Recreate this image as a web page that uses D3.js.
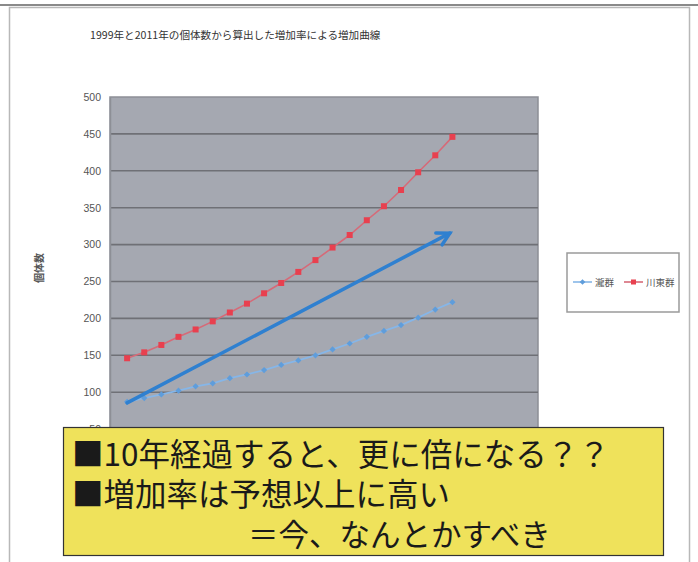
<!DOCTYPE html>
<html><head><meta charset="utf-8">
<script src="https://cdn.jsdelivr.net/npm/d3@7"></script>
<style>
html,body{margin:0;padding:0;background:#fff;}
svg{display:block;font-family:"Noto Sans CJK JP","Noto Sans",sans-serif;}
</style></head>
<body>
<svg id="chart" width="698" height="562"></svg>
<script>
// ---- data ----
const categories = ["2011","2012","2013","2014","2015","2016","2017","2018","2019","2020",
                    "2021","2022","2023","2024","2025","2026","2027","2028","2029","2030"];
const seriesNames = ["瀧群", "川東群"];
const takiValues   = [87, 92, 97, 102, 108, 112, 119, 124, 130, 137, 143, 150, 158, 166, 175, 183, 191, 201, 212, 222];
const kawahigashiValues = [146, 154, 164, 175, 185, 196, 208, 220, 234, 248, 263, 279, 296, 313, 333, 352, 374, 398, 421, 446];
const yTicks = [50, 100, 150, 200, 250, 300, 350, 400, 450, 500];
const titleText = "1999年と2011年の個体数から算出した増加率による増加曲線";
const yAxisTitle = "個体数";
const arrowFrom = [1, 85.5];   // [category position, value]
const arrowTo   = [19.85, 315.5];
const noteLines = ["■10年経過すると、更に倍になる？？", "■増加率は予想以上に高い", "＝今、なんとかすべき"];

// ---- drawing ----
const svg = d3.select("#chart");
const W = 698, H = 562;
const plot = {left:110, right:538, top:97, bottom:466};

// outer frame
svg.append("rect").attr("x",0).attr("y",0).attr("width",W).attr("height",H).attr("fill","#fff");
svg.append("line").attr("x1",0).attr("x2",W).attr("y1",5).attr("y2",5).attr("stroke","#8a8a8a").attr("stroke-width",2);
svg.append("rect").attr("x",9.5).attr("y",7.5).attr("width",680).attr("height",H).attr("fill","none").attr("stroke","#b8b8b8").attr("stroke-width",1.5);

const x = d3.scaleLinear().domain([0, 25]).range([plot.left, plot.right]);
const y = d3.scaleLinear().domain([0, 500]).range([plot.bottom, plot.top]);

// title
svg.append("text").attr("x", 90).attr("y", 39).attr("font-size", 10.6).attr("fill","#333")
  .text(titleText);

// plot background
svg.append("rect").attr("x",plot.left).attr("y",plot.top).attr("width",plot.right-plot.left)
  .attr("height",plot.bottom-plot.top).attr("fill","#a5a8b1").attr("stroke","#8d8f96").attr("stroke-width",1.5);

// gridlines
svg.append("g").selectAll("line").data(yTicks.filter(t=>t<500)).join("line")
  .attr("x1",plot.left).attr("x2",plot.right)
  .attr("y1",d=>y(d)).attr("y2",d=>y(d))
  .attr("stroke","#6f7076").attr("stroke-width",1.6);

// y axis
const yAxis = d3.axisLeft(y).tickValues(yTicks).tickSize(0).tickPadding(9);
const gy = svg.append("g").attr("transform",`translate(${plot.left},0)`).call(yAxis);
gy.select(".domain").attr("stroke","#8d8f96").attr("stroke-width",1.5);
gy.selectAll("text").attr("font-size",10.5).attr("fill","#555").attr("font-family","Liberation Sans, Arial, sans-serif");

// y axis title
svg.append("text").attr("transform",`translate(43,268) rotate(-90)`).attr("text-anchor","middle")
  .attr("font-size",10).attr("font-weight","bold").attr("fill","#555").text(yAxisTitle);

// lines
const line = d3.line().x((d,i)=>x(i+1)).y(d=>y(d));
svg.append("path").datum(takiValues).attr("d",line).attr("fill","none").attr("stroke","#86b6e8").attr("stroke-width",1.8);
svg.append("g").selectAll("rect").data(takiValues).join("rect")
  .attr("x",-2.2).attr("y",-2.2).attr("width",4.4).attr("height",4.4).attr("fill","#5f9ddb")
  .attr("transform",(d,i)=>`translate(${x(i+1)},${y(d)}) rotate(45)`);

svg.append("path").datum(kawahigashiValues).attr("d",line).attr("fill","none").attr("stroke","#d66a78").attr("stroke-width",1.6);
svg.append("g").selectAll("rect").data(kawahigashiValues).join("rect")
  .attr("x",(d,i)=>x(i+1)-3).attr("y",d=>y(d)-3).attr("width",6).attr("height",6).attr("fill","#e8404f");

// arrow annotation
const ax1 = x(arrowFrom[0]), ay1 = y(arrowFrom[1]), ax2 = x(arrowTo[0]), ay2 = y(arrowTo[1]);
svg.append("line").attr("x1",ax1).attr("y1",ay1).attr("x2",ax2).attr("y2",ay2)
  .attr("stroke","#2f80d0").attr("stroke-width",3.5).attr("stroke-linecap","round");
const ang = Math.atan2(ay2-ay1, ax2-ax1), hl = 14, spread = 0.5;
svg.append("polyline")
  .attr("points",[[ax2-hl*Math.cos(ang-spread), ay2-hl*Math.sin(ang-spread)],[ax2,ay2],[ax2-hl*Math.cos(ang+spread), ay2-hl*Math.sin(ang+spread)]].map(p=>p.join(",")).join(" "))
  .attr("fill","none").attr("stroke","#2f80d0").attr("stroke-width",3.5).attr("stroke-linejoin","miter").attr("stroke-linecap","round");

// legend
const lg = svg.append("g");
lg.append("rect").attr("x",567).attr("y",253).attr("width",112).attr("height",59).attr("fill","#fff").attr("stroke","#9a9a9a").attr("stroke-width",1.5);
const legendItems = [
  {name: seriesNames[0], color:"#86b6e8", mark:"#5f9ddb", x:573},
  {name: seriesNames[1], color:"#d66a78", mark:"#e8404f", x:624}
];
legendItems.forEach((it,k)=>{
  lg.append("line").attr("x1",it.x).attr("x2",it.x+19).attr("y1",282).attr("y2",282).attr("stroke",it.color).attr("stroke-width",1.6);
  if(k===0) lg.append("rect").attr("x",-2).attr("y",-2).attr("width",4).attr("height",4).attr("fill",it.mark)
              .attr("transform",`translate(${it.x+9.5},282) rotate(45)`);
  else lg.append("rect").attr("x",it.x+7).attr("y",279.5).attr("width",5).attr("height",5).attr("fill",it.mark);
  lg.append("text").attr("x",it.x+22).attr("y",285.5).attr("font-size",9.5).attr("fill","#555").text(it.name);
});

// note box
svg.append("rect").attr("x",63.5).attr("y",427.5).attr("width",600).attr("height",128)
  .attr("fill","#efe25b").attr("stroke","#333").attr("stroke-width",1.2);
const notePos = [[72, 466], [72, 506], [248, 546]];
svg.append("g").selectAll("text").data(noteLines).join("text")
  .attr("x",(d,i)=>notePos[i][0]).attr("y",(d,i)=>notePos[i][1])
  .attr("font-size",(d,i)=>i===2?30.5:31.5).attr("fill","#1a1a1a").text(d=>d);
</script>
</body></html>
